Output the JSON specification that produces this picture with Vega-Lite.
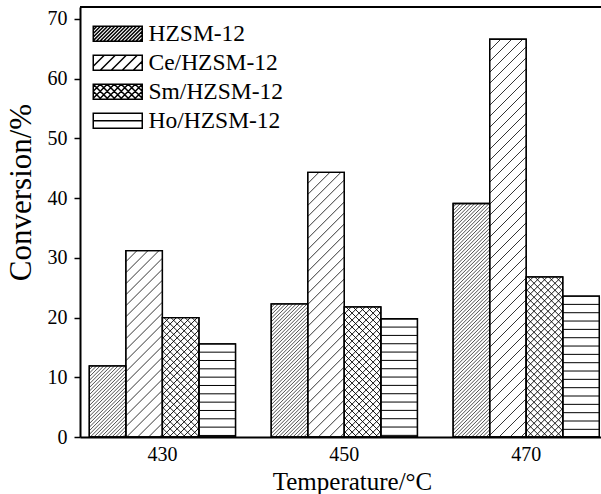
{
"$schema":"https://vega.github.io/schema/vega-lite/v6.json",
"width":521,"height":430,
"autosize":{"type":"none"},
"padding":{"left":80,"top":7,"right":0,"bottom":57},
"background":"white",
"config":{"view":{"stroke":null},"font":"Liberation Serif","axis":{"labelFont":"Liberation Serif","titleFont":"Liberation Serif"},"legend":{"labelFont":"Liberation Serif"}},
"data":{"values":[
{"temp":"430","series":"HZSM-12","value":11.9},
{"temp":"430","series":"Ce/HZSM-12","value":31.2},
{"temp":"430","series":"Sm/HZSM-12","value":20.0},
{"temp":"430","series":"Ho/HZSM-12","value":15.6},
{"temp":"450","series":"HZSM-12","value":22.3},
{"temp":"450","series":"Ce/HZSM-12","value":44.3},
{"temp":"450","series":"Sm/HZSM-12","value":21.8},
{"temp":"450","series":"Ho/HZSM-12","value":19.8},
{"temp":"470","series":"HZSM-12","value":39.1},
{"temp":"470","series":"Ce/HZSM-12","value":66.6},
{"temp":"470","series":"Sm/HZSM-12","value":26.8},
{"temp":"470","series":"Ho/HZSM-12","value":23.6}
]},
"layer":[
{"encoding":{
  "x":{"field":"temp","type":"nominal","scale":{"paddingInner":0.196,"paddingOuter":0.03,"align":0.85},
       "axis":{"title":"Temperature/°C","labelAngle":0,"ticks":false,"labelFontSize":20,"labelColor":"black","labelPadding":7,"domainColor":"black","domainWidth":2,"titleFontSize":25,"titleFontWeight":"normal","titleColor":"black","titleBaseline":"alphabetic","titleY":52,"titleX":272,"zindex":1}},
  "xOffset":{"field":"series","type":"nominal","scale":{"domain":["HZSM-12","Ce/HZSM-12","Sm/HZSM-12","Ho/HZSM-12"],"paddingInner":0,"paddingOuter":0}},
  "y":{"field":"value","type":"quantitative","scale":{"domain":[0,72],"nice":false},
       "axis":{"title":"Conversion/%","values":[0,10,20,30,40,50,60,70],"grid":false,"labelFontSize":20,"labelColor":"black","labelPadding":7,"tickSize":6,"tickWidth":1.5,"tickColor":"black","domainColor":"black","domainWidth":2,"titleFontSize":31,"titleFontWeight":"normal","titleColor":"black","titlePadding":10,"titleY":185,"zindex":1}}
 },
 "layer":[
  {"mark":{"type":"bar","fill":"white","stroke":"black","strokeWidth":1.3}},
  {"mark":{"type":"point","size":4,"filled":false,"stroke":"black","opacity":1,"clip":true},
   "encoding":{
    "shape":{"field":"series","type":"nominal","legend":null,"scale":{"domain":["HZSM-12","Ce/HZSM-12","Sm/HZSM-12","Ho/HZSM-12"],"range":[
"M-18.2,3.6L-14.6,0M-18.2,7.2L-11,0M-18.2,10.8L-7.4,0M-18.2,14.4L-3.8,0M-18.2,18L-0.2,0M-18.2,21.6L3.4,0M-18.2,25.2L7,0M-18.2,28.8L10.6,0M-18.2,32.4L14.2,0M-18.2,36L17.8,0M-18.2,39.6L18.2,3.2m-36.4,40l36.4,-36.4m-36.4,40l36.4,-36.4m-36.4,40l36.4,-36.4m-36.4,40l36.4,-36.4m-36.4,40l36.4,-36.4m-36.4,40l36.4,-36.4m-36.4,40l36.4,-36.4m-36.4,40l36.4,-36.4m-36.4,40l36.4,-36.4m-36.4,40l36.4,-36.4m-36.4,40l36.4,-36.4m-36.4,40l36.4,-36.4m-36.4,40l36.4,-36.4m-36.4,40l36.4,-36.4m-36.4,40l36.4,-36.4m-36.4,40l36.4,-36.4m-36.4,40l36.4,-36.4m-36.4,40l36.4,-36.4m-36.4,40l36.4,-36.4m-36.4,40l36.4,-36.4m-36.4,40l36.4,-36.4m-36.4,40l36.4,-36.4m-36.4,40l36.4,-36.4m-36.4,40l36.4,-36.4m-36.4,40l36.4,-36.4m-36.4,40l36.4,-36.4m-36.4,40l36.4,-36.4m-36.4,40l36.4,-36.4m-36.4,40l36.4,-36.4m-36.4,40l36.4,-36.4m-36.4,40l36.4,-36.4m-36.4,40l36.4,-36.4m-36.4,40l36.4,-36.4m-36.4,40l36.4,-36.4m-36.4,40l36.4,-36.4m-36.4,40l36.4,-36.4m-36.4,40l36.4,-36.4m-36.4,40l36.4,-36.4m-36.4,40l36.4,-36.4m-36.4,40l36.4,-36.4m-36.4,40l36.4,-36.4m-36.4,40l36.4,-36.4m-36.4,40l36.4,-36.4m-36.4,40l36.4,-36.4m-36.4,40l36.4,-36.4m-36.4,40l36.4,-36.4m-36.4,40l36.4,-36.4m-36.4,40l36.4,-36.4m-36.4,40l36.4,-36.4m-36.4,40l36.4,-36.4m-36.4,40l36.4,-36.4m-36.4,40l36.4,-36.4m-36.4,40l36.4,-36.4m-36.4,40l36.4,-36.4m-36.4,40l36.4,-36.4m-36.4,40l36.4,-36.4m-36.4,40l36.4,-36.4m-36.4,40l36.4,-36.4m-36.4,40l36.4,-36.4m-36.4,40l36.4,-36.4m-36.4,40l36.4,-36.4m-36.4,40l36.4,-36.4m-36.4,40l36.4,-36.4m-36.4,40l36.4,-36.4m-36.4,40l36.4,-36.4m-36.4,40l36.4,-36.4",
"M-18.2,11L-7.2,0M-18.2,22L3.8,0M-18.2,33L14.8,0M-18.2,44L18.2,7.6m-36.4,47.4l36.4,-36.4m-36.4,47.4l36.4,-36.4m-36.4,47.4l36.4,-36.4m-36.4,47.4l36.4,-36.4m-36.4,47.4l36.4,-36.4m-36.4,47.4l36.4,-36.4m-36.4,47.4l36.4,-36.4m-36.4,47.4l36.4,-36.4m-36.4,47.4l36.4,-36.4m-36.4,47.4l36.4,-36.4m-36.4,47.4l36.4,-36.4m-36.4,47.4l36.4,-36.4m-36.4,47.4l36.4,-36.4m-36.4,47.4l36.4,-36.4m-36.4,47.4l36.4,-36.4m-36.4,47.4l36.4,-36.4m-36.4,47.4l36.4,-36.4m-36.4,47.4l36.4,-36.4m-36.4,47.4l36.4,-36.4m-36.4,47.4l36.4,-36.4m-36.4,47.4l36.4,-36.4m-36.4,47.4l36.4,-36.4m-36.4,47.4l36.4,-36.4m-36.4,47.4l36.4,-36.4m-36.4,47.4l36.4,-36.4m-36.4,47.4l36.4,-36.4m-36.4,47.4l36.4,-36.4m-36.4,47.4l36.4,-36.4m-36.4,47.4l36.4,-36.4m-36.4,47.4l36.4,-36.4m-36.4,47.4l36.4,-36.4m-36.4,47.4l36.4,-36.4m-36.4,47.4l36.4,-36.4m-36.4,47.4l36.4,-36.4m-36.4,47.4l36.4,-36.4m-36.4,47.4l36.4,-36.4",
"M-18.2,7L-11.2,0M-18.2,14L-4.2,0M-18.2,21L2.8,0M-18.2,28L9.8,0M-18.2,35L16.8,0M-18.2,42L18.2,5.6m-36.4,43.4l36.4,-36.4m-36.4,43.4l36.4,-36.4m-36.4,43.4l36.4,-36.4m-36.4,43.4l36.4,-36.4m-36.4,43.4l36.4,-36.4m-36.4,43.4l36.4,-36.4m-36.4,43.4l36.4,-36.4m-36.4,43.4l36.4,-36.4m-36.4,43.4l36.4,-36.4m-36.4,43.4l36.4,-36.4m-36.4,43.4l36.4,-36.4m-36.4,43.4l36.4,-36.4m-36.4,43.4l36.4,-36.4m-36.4,43.4l36.4,-36.4m-36.4,43.4l36.4,-36.4m-36.4,43.4l36.4,-36.4m-36.4,43.4l36.4,-36.4m-36.4,43.4l36.4,-36.4m-36.4,43.4l36.4,-36.4m-36.4,43.4l36.4,-36.4m-36.4,43.4l36.4,-36.4m-36.4,43.4l36.4,-36.4m-36.4,43.4l36.4,-36.4m-36.4,43.4l36.4,-36.4M18.2,7L11.2,0M18.2,14L4.2,0M18.2,21L-2.8,0M18.2,28L-9.8,0M18.2,35L-16.8,0M18.2,42L-18.2,5.6m36.4,43.4l-36.4,-36.4m36.4,43.4l-36.4,-36.4m36.4,43.4l-36.4,-36.4m36.4,43.4l-36.4,-36.4m36.4,43.4l-36.4,-36.4m36.4,43.4l-36.4,-36.4m36.4,43.4l-36.4,-36.4m36.4,43.4l-36.4,-36.4m36.4,43.4l-36.4,-36.4m36.4,43.4l-36.4,-36.4m36.4,43.4l-36.4,-36.4m36.4,43.4l-36.4,-36.4m36.4,43.4l-36.4,-36.4m36.4,43.4l-36.4,-36.4m36.4,43.4l-36.4,-36.4m36.4,43.4l-36.4,-36.4m36.4,43.4l-36.4,-36.4m36.4,43.4l-36.4,-36.4m36.4,43.4l-36.4,-36.4m36.4,43.4l-36.4,-36.4m36.4,43.4l-36.4,-36.4m36.4,43.4l-36.4,-36.4m36.4,43.4l-36.4,-36.4m36.4,43.4l-36.4,-36.4",
"M-18.2,8.33h36.4m-36.4,8.33h36.4m-36.4,8.33h36.4m-36.4,8.33h36.4m-36.4,8.33h36.4m-36.4,8.33h36.4m-36.4,8.33h36.4m-36.4,8.33h36.4m-36.4,8.33h36.4m-36.4,8.33h36.4m-36.4,8.33h36.4m-36.4,8.33h36.4m-36.4,8.33h36.4m-36.4,8.33h36.4m-36.4,8.33h36.4m-36.4,8.33h36.4m-36.4,8.33h36.4m-36.4,8.33h36.4"
]}},
    "strokeWidth":{"field":"series","type":"ordinal","legend":null,"scale":{"domain":["HZSM-12","Ce/HZSM-12","Sm/HZSM-12","Ho/HZSM-12"],"range":[0.7,1,1,1.4]}}
   }},
  {"mark":{"type":"point","size":4,"filled":true,"fill":"white","stroke":"black","opacity":0},
   "encoding":{
    "shape":{"field":"series","type":"nominal","scale":{"domain":["HZSM-12","Ce/HZSM-12","Sm/HZSM-12","Ho/HZSM-12"],"range":[
"M-24.5,-7.5h49v15h-49zM-24.5,-3.9L-20.9,-7.5M-24.5,-0.3L-17.3,-7.5M-24.5,3.3L-13.7,-7.5M-24.5,6.9L-10.1,-7.5M-21.5,7.5l15,-15M-17.9,7.5l15,-15M-14.3,7.5l15,-15M-10.7,7.5l15,-15M-7.1,7.5l15,-15M-3.5,7.5l15,-15M0.1,7.5l15,-15M3.7,7.5l15,-15M7.3,7.5l15,-15M10.9,7.5L24.5,-6.1M14.5,7.5L24.5,-2.5M18.1,7.5L24.5,1.1M21.7,7.5L24.5,4.7",
"M-24.5,-7.5h49v15h-49zM-24.5,3.5L-13.5,-7.5M-17.5,7.5L-2.5,-7.5M-6.5,7.5L8.5,-7.5M4.5,7.5L19.5,-7.5M15.5,7.5L24.5,-1.5",
"M-24.5,-7.5h49v15h-49zM-24.5,-0.5L-17.5,-7.5M-24.5,6.5L-10.5,-7.5M-18.5,7.5L-3.5,-7.5M-11.5,7.5L3.5,-7.5M-4.5,7.5L10.5,-7.5M2.5,7.5L17.5,-7.5M9.5,7.5L24.5,-7.5M16.5,7.5L24.5,-0.5M23.5,7.5L24.5,6.5M24.5,-0.5L17.5,-7.5M24.5,6.5L10.5,-7.5M18.5,7.5L3.5,-7.5M11.5,7.5L-3.5,-7.5M4.5,7.5L-10.5,-7.5M-2.5,7.5L-17.5,-7.5M-9.5,7.5L-24.5,-7.5M-16.5,7.5L-24.5,-0.5M-23.5,7.5L-24.5,6.5",
"M-24.5,-7.5h49v15h-49zM-24.5,0h49"
]},
     "legend":{"title":null,"orient":"none","legendX":26,"legendY":15,"symbolSize":4,"labelFontSize":23.5,"labelOffset":19,"rowPadding":4,"labelColor":"black","labelLimit":300,
       "encode":{"symbols":{"update":{"opacity":{"value":1},"fill":{"value":"white"},"fillOpacity":{"value":1},"stroke":{"value":"black"},"strokeOpacity":{"value":1},"strokeWidth":{"value":1}}}}}}
   }},
  {"mark":{"type":"bar","fill":"white","fillOpacity":0,"stroke":"black","strokeWidth":1.3}}
 ],
 "resolve":{"scale":{"shape":"independent"},"legend":{"shape":"independent"}}
},
{"mark":{"type":"rule","stroke":"black","strokeWidth":2},"encoding":{"y":{"datum":72}}}
]
}
